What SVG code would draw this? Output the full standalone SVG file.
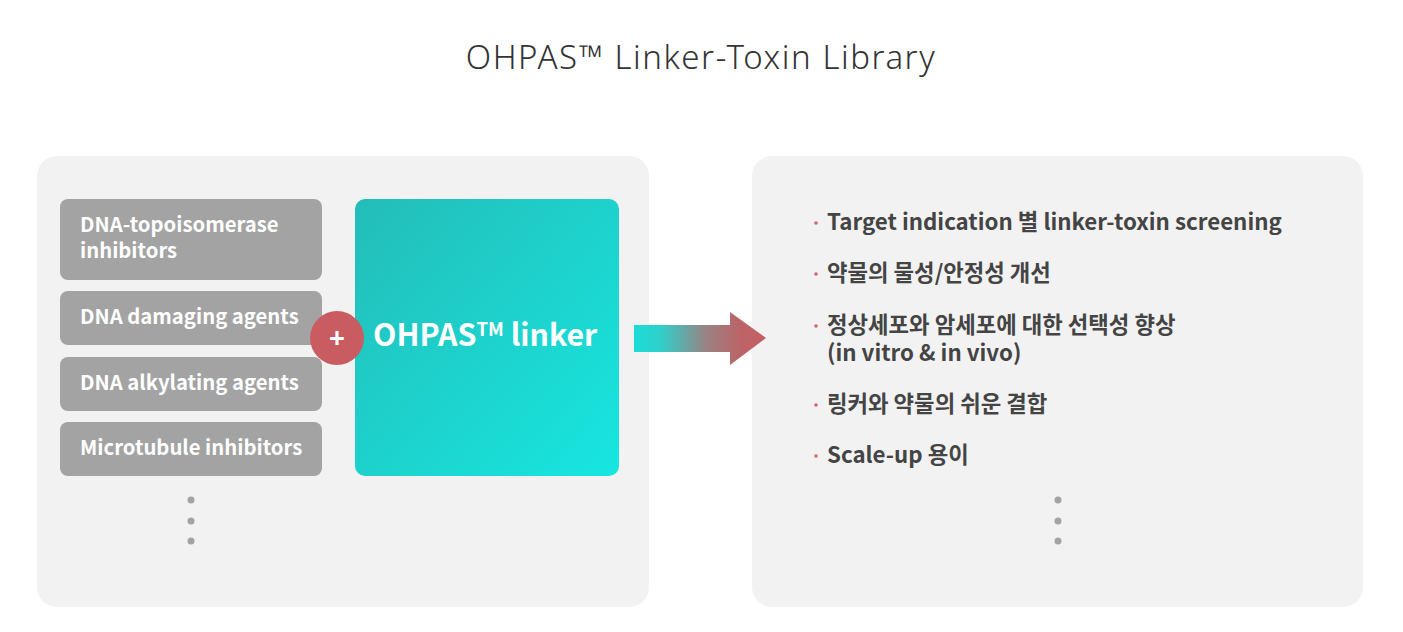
<svg xmlns="http://www.w3.org/2000/svg" width="1403" height="632" viewBox="0 0 1403 632">
<defs>
<style>
.panel{fill:#f2f2f2}
.gbox{fill:#a3a3a3}
.gtxt{fill:#ffffff;font-family:"Noto Sans CJK KR","Noto Sans",sans-serif;font-weight:700;font-size:20.3px}
.rtxt{fill:#444444;font-family:"Noto Sans CJK KR","Noto Sans",sans-serif;font-weight:700;font-size:22.3px}
.bul{fill:#d2646a}
.dot{fill:#a3a3a3}
</style>
<linearGradient id="teal" x1="0" y1="0" x2="1" y2="1">
<stop offset="0" stop-color="#24bdb8"/>
<stop offset="1" stop-color="#17e6e0"/>
</linearGradient>
<linearGradient id="arr" x1="634" y1="0" x2="766" y2="0" gradientUnits="userSpaceOnUse">
<stop offset="0" stop-color="#1bdcd6"/>
<stop offset="0.2" stop-color="#2fd0cb"/>
<stop offset="0.55" stop-color="#9a8283"/>
<stop offset="0.8" stop-color="#bb6468"/>
<stop offset="1" stop-color="#c85e63"/>
</linearGradient>
</defs>
<rect width="1403" height="632" fill="#ffffff"/>
<text x="701" y="69" text-anchor="middle" font-family="'Noto Sans','Open Sans',sans-serif" font-weight="300" font-size="33" letter-spacing="1.55" fill="#333333">OHPAS™ Linker-Toxin Library</text>

<g id="left-panel">
<rect class="panel" x="37" y="156" width="612" height="451" rx="20"/>
</g>
<g id="right-panel">
<rect class="panel" x="752" y="156" width="611" height="451" rx="20"/>
</g>

<g id="node-topo">
<rect class="gbox" x="60" y="199" width="262" height="81" rx="8"/>
<text class="gtxt" x="80" y="232">DNA-topoisomerase<tspan x="80" y="258">inhibitors</tspan></text>
</g>
<g id="node-damaging">
<rect class="gbox" x="60" y="291" width="262" height="54" rx="8"/>
<text class="gtxt" x="80" y="324">DNA damaging agents</text>
</g>
<g id="node-alkylating">
<rect class="gbox" x="60" y="357" width="262" height="54" rx="8"/>
<text class="gtxt" x="80" y="390">DNA alkylating agents</text>
</g>
<g id="node-microtubule">
<rect class="gbox" x="60" y="422" width="262" height="54" rx="8"/>
<text class="gtxt" x="80" y="455">Microtubule inhibitors</text>
</g>
<g id="left-dots">
<circle class="dot" cx="191" cy="500" r="3.5"/>
<circle class="dot" cx="191" cy="521" r="3.5"/>
<circle class="dot" cx="191" cy="541" r="3.5"/>
</g>

<g id="node-linker">
<rect x="355" y="199" width="264" height="277" rx="10" fill="url(#teal)"/>
<text x="373" y="346" font-family="'Noto Sans CJK KR','Noto Sans',sans-serif" font-weight="700" font-size="30.4" fill="#ffffff">OHPAS<tspan font-size="18.5" dy="-10">TM</tspan><tspan dy="10"> linker</tspan></text>
</g>
<g id="node-plus">
<circle cx="337" cy="338" r="27" fill="#c95c60"/>
<text x="337" y="348" text-anchor="middle" font-family="'Noto Sans','DejaVu Sans',sans-serif" font-weight="700" font-size="28" fill="#ffffff">+</text>
</g>

<g id="connectors">
<polygon points="634,325 730,325 730,312 766,338 730,365 730,352 634,352" fill="url(#arr)"/>
</g>

<g id="node-benefits">
<circle class="bul" cx="816" cy="223" r="1.8"/>
<text class="rtxt" x="827" y="230">Target indication 별 linker-toxin screening</text>
<circle class="bul" cx="816" cy="274" r="1.8"/>
<text class="rtxt" x="827" y="281">약물의 물성/안정성 개선</text>
<circle class="bul" cx="816" cy="326" r="1.8"/>
<text class="rtxt" x="827" y="333">정상세포와 암세포에 대한 선택성 향상<tspan x="827" y="361">(in vitro &amp; in vivo)</tspan></text>
<circle class="bul" cx="816" cy="405" r="1.8"/>
<text class="rtxt" x="827" y="412">링커와 약물의 쉬운 결합</text>
<circle class="bul" cx="816" cy="456" r="1.8"/>
<text class="rtxt" x="827" y="463">Scale-up 용이</text>
</g>
<g id="right-dots">
<circle class="dot" cx="1058" cy="500" r="3.5"/>
<circle class="dot" cx="1058" cy="521" r="3.5"/>
<circle class="dot" cx="1058" cy="541" r="3.5"/>
</g>
</svg>
